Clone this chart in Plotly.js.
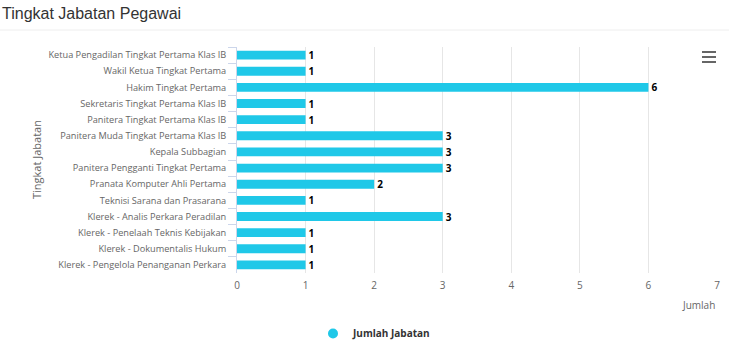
<!DOCTYPE html>
<html><head><meta charset="utf-8">
<script src="https://cdn.plot.ly/plotly-3.0.1.min.js"></script>
<style>html,body{margin:0;padding:0;background:#fff;}#chart{width:729px;height:356px;}</style>
</head><body><div id="chart"></div>
<script>
const categories = [
  "Ketua Pengadilan Tingkat Pertama Klas IB",
  "Wakil Ketua Tingkat Pertama",
  "Hakim Tingkat Pertama",
  "Sekretaris Tingkat Pertama Klas IB",
  "Panitera Tingkat Pertama Klas IB",
  "Panitera Muda Tingkat Pertama Klas IB",
  "Kepala Subbagian",
  "Panitera Pengganti Tingkat Pertama",
  "Pranata Komputer Ahli Pertama",
  "Teknisi Sarana dan Prasarana",
  "Klerek - Analis Perkara Peradilan",
  "Klerek - Penelaah Teknis Kebijakan",
  "Klerek - Dokumentalis Hukum",
  "Klerek - Pengelola Penanganan Perkara"
];
const values = [1,1,6,1,1,3,3,3,2,1,3,1,1,1];
const seriesName = "Jumlah Jabatan";
const xTicks = [0,1,2,3,4,5,6,7];

const barColor = "#1fc8e8";
const font = "Open Sans, DejaVu Sans, sans-serif";

const traces = [
  {
    type: "bar", orientation: "h",
    x: values, y: categories,
    marker: {color: barColor},
    width: 0.55,
    text: values.map(String),
    textposition: "outside",
    constraintext: "none",
    textfont: {family: font, size: 10, color: "#000", weight: "bold"},
    cliponaxis: false,
    showlegend: false,
    name: seriesName
  },
  {
    type: "scatter", mode: "markers",
    x: [null], y: [null],
    marker: {color: barColor, size: 10, symbol: "circle"},
    name: seriesName,
    showlegend: true
  }
];

const layout = {
  width: 729, height: 356,
  margin: {l: 237, r: 12, t: 47, b: 83, autoexpand: false},
  paper_bgcolor: "#fff", plot_bgcolor: "#fff",
  font: {family: font, size: 10, color: "#666"},
  bargap: 0.45,
  xaxis: {
    range: [0, 7], tickvals: xTicks, ticktext: xTicks.map(String),
    showgrid: true, gridcolor: "#e6e6e6", gridwidth: 1,
    zeroline: false, showline: false, ticks: "", ticklabelstandoff: 5,
    tickfont: {size: 10, color: "#666"}, fixedrange: true
  },
  yaxis: {
    type: "category", autorange: "reversed",
    showline: true, linecolor: "#ccd6eb", linewidth: 1,
    ticks: "outside", tickson: "boundaries", ticklen: 8, tickcolor: "#ccd6eb",
    ticklabelstandoff: 8,
    showgrid: false, zeroline: false,
    tickfont: {size: 9.2, color: "#666"}, fixedrange: true
  },
  legend: {
    orientation: "h", x: 76/480, xanchor: "left", y: -46/226, yanchor: "top",
    font: {family: font, size: 10, color: "#333", weight: "bold"}
  },
  annotations: [
    {text: "Tingkat Jabatan Pegawai", xref: "paper", yref: "paper", x: -237/480, y: 1 + 34/226,
     xanchor: "left", yanchor: "middle", showarrow: false,
     font: {family: "Liberation Sans, Arial, sans-serif", size: 16, color: "#333"}},
    {text: "Tingkat Jabatan", xref: "paper", yref: "paper", x: -201/480, y: 0.5,
     textangle: -90, xanchor: "center", yanchor: "middle", showarrow: false,
     font: {family: font, size: 11, color: "#666"}},
    {text: "Jumlah", xref: "paper", yref: "paper", x: 1, y: -32/226,
     xanchor: "right", yanchor: "middle", showarrow: false, yshift: 0,
     font: {family: font, size: 10, color: "#666"}}
  ],
  shapes: [
    {type: "line", xref: "paper", yref: "paper", x0: -237/480, x1: 1 + 12/480, y0: 1 + 17/226, y1: 1 + 17/226,
     line: {color: "#eeeeee", width: 1}},
    {type: "line", xref: "paper", yref: "paper", x0: 465/480, x1: 479/480, y0: 1 - 5/226, y1: 1 - 5/226, line: {color: "#666", width: 2}},
    {type: "line", xref: "paper", yref: "paper", x0: 465/480, x1: 479/480, y0: 1 - 10/226, y1: 1 - 10/226, line: {color: "#666", width: 2}},
    {type: "line", xref: "paper", yref: "paper", x0: 465/480, x1: 479/480, y0: 1 - 15/226, y1: 1 - 15/226, line: {color: "#666", width: 2}}
  ]
};

Plotly.newPlot("chart", traces, layout, {displayModeBar: false, staticPlot: true});
</script></body></html>
